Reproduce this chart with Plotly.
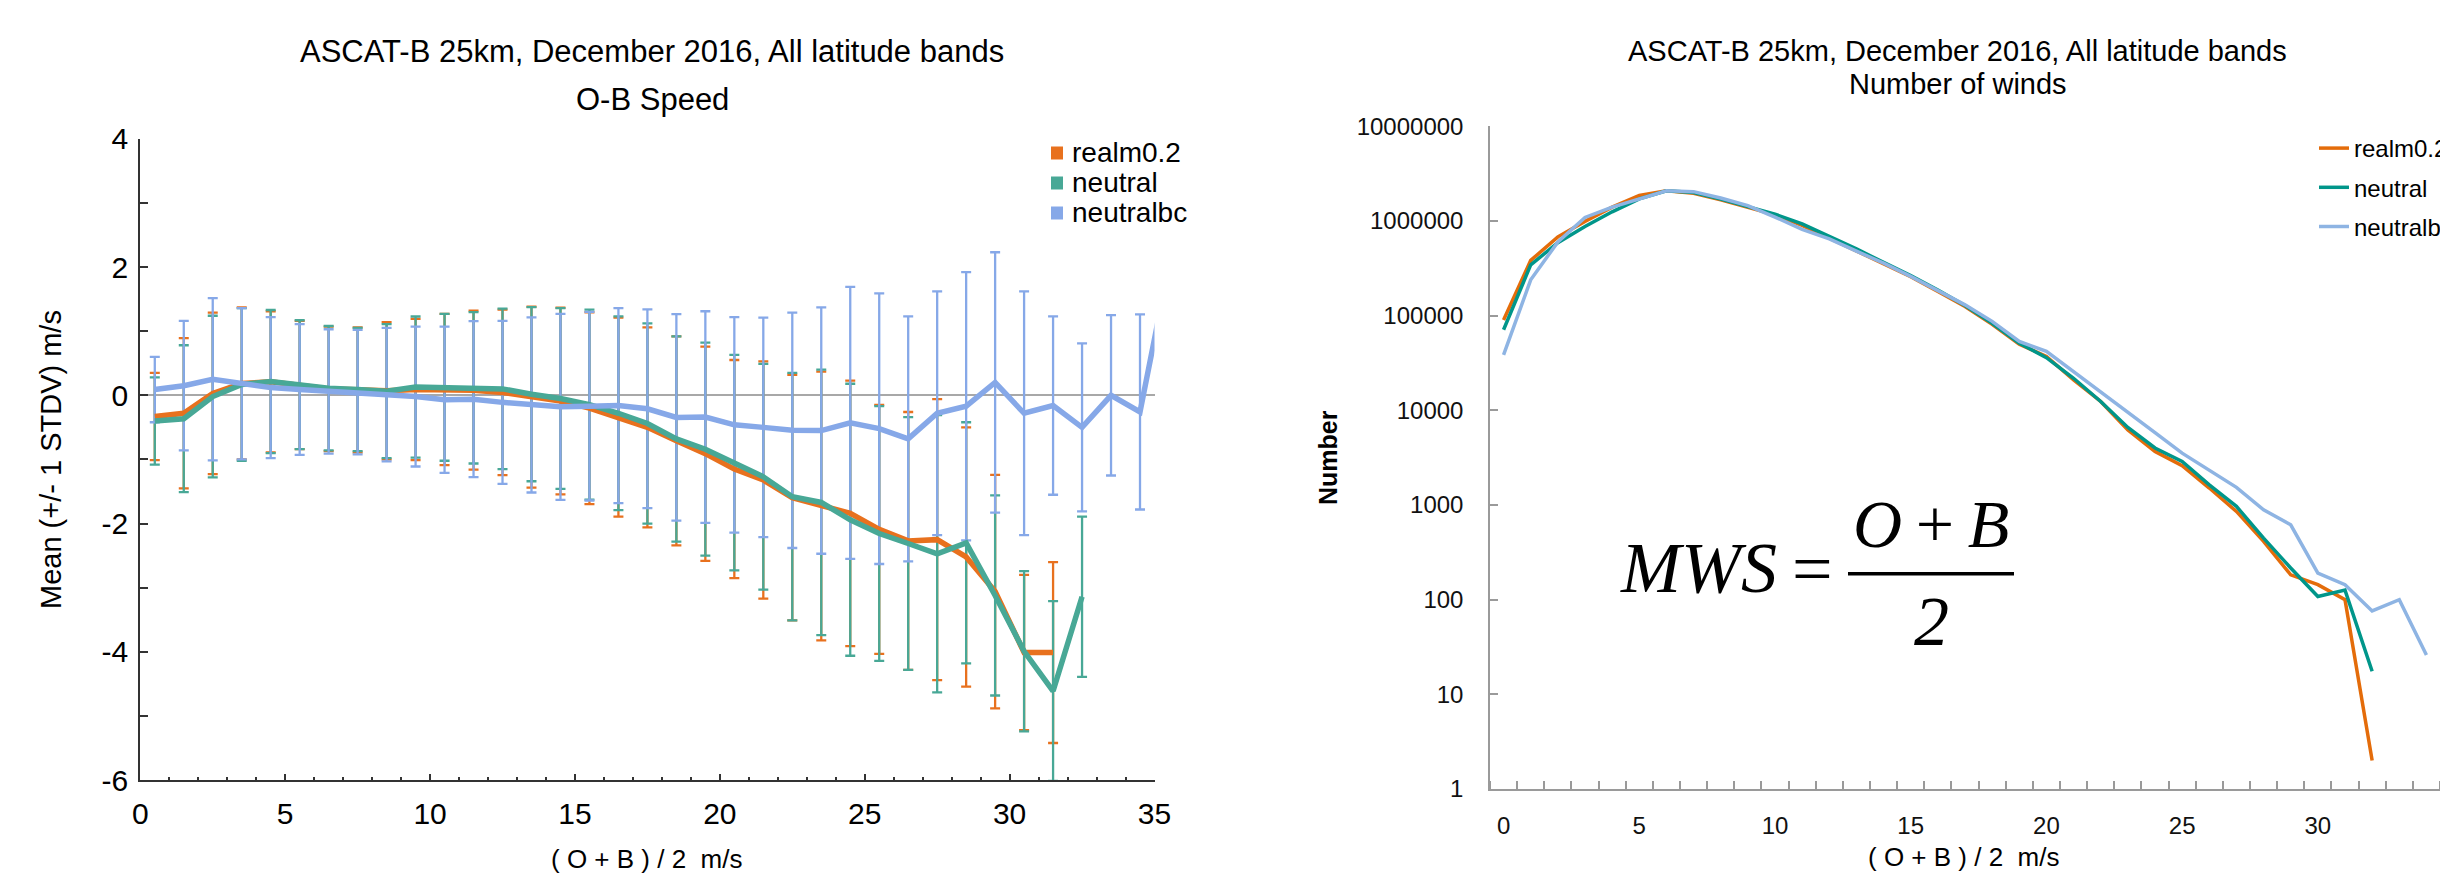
import plotly.graph_objects as go

W, H = 2448, 874

# ---------------- Left chart: O-B speed mean +/- 1 STDV ----------------
speed_bins = [0.5, 1.5, 2.5, 3.5, 4.5, 5.5, 6.5, 7.5, 8.5, 9.5, 10.5, 11.5, 12.5, 13.5,
              14.5, 15.5, 16.5, 17.5, 18.5, 19.5, 20.5, 21.5, 22.5, 23.5, 24.5, 25.5,
              26.5, 27.5, 28.5, 29.5, 30.5, 31.5, 32.5, 33.5, 34.5, 35.5]

realm_mean = [-0.33, -0.28, 0.03, 0.185, 0.21, 0.16, 0.10, 0.085, 0.07, 0.09, 0.09, 0.08,
              0.045, -0.03, -0.09, -0.20, -0.34, -0.50, -0.71, -0.91, -1.15, -1.32, -1.595,
              -1.725, -1.84, -2.09, -2.27, -2.25, -2.52, -3.06, -4.01, -4.01]
realm_std = [0.68, 1.17, 1.26, 1.185, 1.10, 1.00, 0.97, 0.975, 1.07, 1.10, 1.18, 1.24,
             1.29, 1.41, 1.455, 1.495, 1.55, 1.56, 1.63, 1.67, 1.70, 1.85, 1.915,
             2.095, 2.07, 1.94, 2.01, 2.19, 2.02, 1.82, 1.21, 1.41]

neutral_mean = [-0.40, -0.365, -0.02, 0.17, 0.215, 0.165, 0.11, 0.09, 0.065, 0.128, 0.125,
                0.117, 0.10, 0.017, -0.05, -0.146, -0.28, -0.44, -0.68, -0.84, -1.05, -1.27,
                -1.58, -1.67, -1.94, -2.155, -2.31, -2.47, -2.30, -3.12, -3.99, -4.61, -3.14]
neutral_std = [0.68, 1.145, 1.26, 1.19, 1.115, 1.005, 0.97, 0.96, 1.045, 1.10, 1.145,
               1.18, 1.25, 1.357, 1.41, 1.48, 1.51, 1.56, 1.60, 1.66, 1.68, 1.76,
               1.93, 2.07, 2.12, 1.985, 1.97, 2.16, 1.88, 1.56, 1.25, 1.40, 1.25]

neutralbc_mean = [0.09, 0.15, 0.25, 0.18, 0.12, 0.09, 0.06, 0.05, 0.01, -0.02, -0.07, -0.06,
                  -0.11, -0.15, -0.18, -0.17, -0.16, -0.21, -0.345, -0.34, -0.46, -0.50,
                  -0.545, -0.55, -0.43, -0.52, -0.68, -0.28, -0.17, 0.20, -0.28, -0.16,
                  -0.50, 0.0, -0.26, 2.02]
neutralbc_std = [0.51, 1.01, 1.265, 1.18, 1.10, 1.02, 0.97, 0.97, 1.04, 1.09, 1.14, 1.215,
                 1.27, 1.365, 1.45, 1.47, 1.52, 1.55, 1.61, 1.65, 1.68, 1.71, 1.835, 1.92,
                 2.12, 2.11, 1.91, 1.90, 2.09, 2.03, 1.90, 1.39, 1.31, 1.25, 1.52]

left_yticks = [-6, -4, -2, 0, 2, 4]
left_yticktext = ["-6", "-4", "-2", "0", "2", "4"]
left_xticks = [0, 5, 10, 15, 20, 25, 30, 35]

# ---------------- Right chart: number of winds ----------------
wind_speed = [0, 1, 2, 3, 4, 5, 6, 7, 8, 9, 10, 11, 12, 13, 14, 15, 16, 17, 18, 19, 20,
              21, 22, 23, 24, 25, 26, 27, 28, 29, 30, 31, 32, 33, 34]
count_realm = [90000, 383000, 680000, 990000, 1400000, 1860000, 2080000, 1960000, 1670000,
               1390000, 1160000, 900000, 660000, 490000, 358000, 258000, 180000, 125000,
               81000, 50000, 37000, 21000, 12400, 6200, 3680, 2600, 1510, 855, 413, 183,
               144, 100, 2]
count_neutral = [71000, 344000, 590000, 875000, 1250000, 1710000, 2080000, 2000000, 1700000,
                 1420000, 1180000, 930000, 686000, 507000, 365000, 265000, 187000, 128000,
                 83000, 51000, 36000, 21800, 12400, 6600, 4000, 2880, 1630, 967, 447, 216,
                 108, 126, 17.5]
count_neutralbc = [38500, 239000, 600000, 1090000, 1400000, 1710000, 2080000, 2040000,
                   1750000, 1450000, 1100000, 815000, 646000, 480000, 358000, 260000, 183000,
                   130000, 87000, 53500, 41900, 25700, 15800, 9600, 5800, 3530, 2350, 1535,
                   890, 618, 191, 144, 76, 100, 26]
right_yticks = [1, 10, 100, 1000, 10000, 100000, 1000000, 10000000]
right_yticktext = ["1", "10", "100", "1000", "10000", "100000", "1000000", "10000000"]
right_xticks = [0, 5, 10, 15, 20, 25, 30]

series_names = ["realm0.2", "neutral", "neutralbc"]
left_colors = ["#E8711E", "#48A896", "#86A8E8"]
right_colors = ["#E46C0A", "#00968A", "#8EB4E3"]

FONT = "Liberation Sans, Arial, sans-serif"
SERIF = "Liberation Serif, Times New Roman, serif"


def px(xp):
    return xp / W


def py(yp):
    return 1 - yp / H


fig = go.Figure()

left_means = [realm_mean, neutral_mean, neutralbc_mean]
left_stds = [realm_std, neutral_std, neutralbc_std]

# error bars (invisible markers carry them)
for name, m, s, c in zip(series_names, left_means, left_stds, left_colors):
    n = len(s)
    fig.add_trace(go.Scatter(
        x=speed_bins[:n], y=m[:n], mode="markers",
        marker=dict(size=1, color="rgba(0,0,0,0)"),
        error_y=dict(type="data", array=s, symmetric=True, color=c, thickness=2.3, width=5),
        showlegend=False, hoverinfo="skip", xaxis="x", yaxis="y"))

# mean lines
for name, m, c in zip(series_names, left_means, left_colors):
    fig.add_trace(go.Scatter(
        x=speed_bins[:len(m)], y=m, mode="lines",
        line=dict(color=c, width=5.5),
        showlegend=False, name=name, xaxis="x", yaxis="y"))

# right chart lines
for i, (name, vals, c) in enumerate(zip(series_names,
                                         [count_realm, count_neutral, count_neutralbc],
                                         right_colors)):
    fig.add_trace(go.Scatter(
        x=wind_speed[:len(vals)], y=vals, mode="lines",
        line=dict(color=c, width=3.5),
        name=name, legend="legend2", legendgroup="g%d" % i,
        xaxis="x2", yaxis="y2"))

axis_dark = "#333333"
axis_gray = "#9A9A9A"

fig.update_layout(
    width=W, height=H,
    margin=dict(l=0, r=0, t=0, b=0, autoexpand=False),
    paper_bgcolor="white", plot_bgcolor="white",
    font=dict(family=FONT, color="#000000"),
    showlegend=True,
    xaxis=dict(
        domain=[px(132.3), px(1146.5)], range=[0, 35], anchor="y",
        tickvals=left_xticks, ticks="inside", ticklen=6, tickwidth=2, tickcolor=axis_dark,
        minor=dict(dtick=1, tick0=0, ticks="inside", ticklen=3, tickwidth=2, tickcolor=axis_dark),
        showline=True, linecolor=axis_dark, linewidth=2, showgrid=False, zeroline=False,
        tickfont=dict(size=30, color="#000"), ticklabelstandoff=6, automargin=False),
    yaxis=dict(
        domain=[py(772.2), py(130.7)], range=[-6, 4], anchor="x",
        tickvals=left_yticks, ticktext=left_yticktext,
        ticks="inside", ticklen=8, tickwidth=2, tickcolor=axis_dark,
        minor=dict(dtick=1, tick0=0, ticks="inside", ticklen=8, tickwidth=2, tickcolor=axis_dark),
        showline=True, linecolor=axis_dark, linewidth=2, showgrid=False,
        zeroline=True, zerolinecolor="#A8A8A8", zerolinewidth=2,
        tickfont=dict(size=30, color="#000"), ticklabelstandoff=4, automargin=False),
    xaxis2=dict(
        domain=[px(1482), px(2432)], range=[-0.5, 34.5], anchor="y2",
        tickvals=right_xticks, ticks="",
        minor=dict(tick0=0.5, dtick=1, ticks="inside", ticklen=8, tickwidth=1.5, tickcolor=axis_gray),
        showline=True, linecolor=axis_gray, linewidth=1.5, showgrid=False, zeroline=False,
        tickfont=dict(size=24, color="#111"), ticklabelstandoff=14, automargin=False),
    yaxis2=dict(
        domain=[py(781), py(118.3)], type="log", range=[0, 7], anchor="x2",
        tickvals=right_yticks, ticktext=right_yticktext,
        ticks="inside", ticklen=8, tickwidth=1.5, tickcolor=axis_gray,
        showline=True, linecolor=axis_gray, linewidth=1.5, showgrid=False, zeroline=False,
        tickfont=dict(size=24, color="#111"), ticklabelstandoff=20, automargin=False),
    legend2=dict(
        x=px(2306), y=py(118), xanchor="left", yanchor="top",
        font=dict(size=24, family=FONT, color="#000"), bgcolor="rgba(0,0,0,0)",
        borderwidth=0, tracegroupgap=5, itemclick=False),
)

annotations = [
    # left titles
    dict(x=px(644), y=py(43), text="ASCAT-B 25km, December 2016, All latitude bands",
         font=dict(size=31)),
    dict(x=px(644), y=py(91), text="O-B Speed", font=dict(size=31)),
    dict(x=px(43), y=py(452), text="Mean (+/- 1 STDV) m/s", textangle=-90, font=dict(size=29)),
    dict(x=px(638), y=py(851), text="( O + B ) / 2  m/s", font=dict(size=26)),
    # right titles
    dict(x=px(1950), y=py(43), text="ASCAT-B 25km, December 2016, All latitude bands",
         font=dict(size=29)),
    dict(x=px(1950), y=py(76), text="Number of winds", font=dict(size=29)),
    dict(x=px(1320), y=py(450), text="<b>Number</b>", textangle=-90, font=dict(size=25)),
    dict(x=px(1955), y=py(849), text="( O + B ) / 2  m/s", font=dict(size=26)),
    # formula
    dict(x=px(1690), y=py(560), text="<i>MWS</i>", font=dict(size=72, family=SERIF)),
    dict(x=px(1804), y=py(561), text="=", font=dict(size=72, family=SERIF)),
    dict(x=px(1923), y=py(516), text="<i>O</i>\u2009+\u2009<i>B</i>", font=dict(size=68, family=SERIF)),
    dict(x=px(1923), y=py(613), text="<i>2</i>", font=dict(size=70, family=SERIF)),
]
for a in annotations:
    a.update(xref="paper", yref="paper", xanchor="center", yanchor="middle", showarrow=False)

# left legend (square swatches + labels)
legend_rows_y = [145, 175, 205]
for name, c, ry in zip(series_names, left_colors, legend_rows_y):
    fig.add_shape(type="rect", xref="paper", yref="paper",
                  x0=px(1043), x1=px(1055), y0=py(ry + 6.5), y1=py(ry - 6.5),
                  fillcolor=c, line=dict(width=0))
    annotations.append(dict(x=px(1062), y=py(ry), text=name, xref="paper", yref="paper",
                            xanchor="left", yanchor="middle", showarrow=False,
                            font=dict(size=28)))

for a in annotations:
    a["font"].setdefault("family", FONT)
    a["font"].setdefault("color", "#000")
fig.update_layout(annotations=annotations)

fig.add_shape(type="line", xref="paper", yref="paper",
              x0=px(1840), x1=px(2006), y0=py(565.7), y1=py(565.7),
              line=dict(color="#000", width=3.5))

fig.write_html("out.html")
